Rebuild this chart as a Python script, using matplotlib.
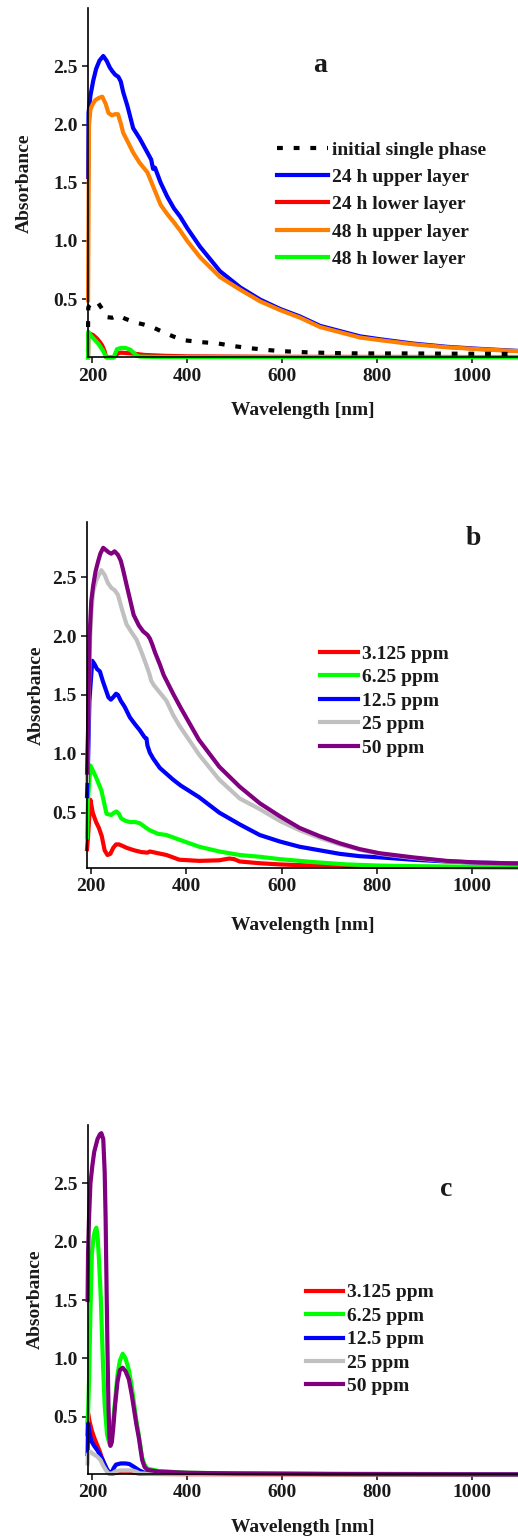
import matplotlib
matplotlib.use("Agg")
import matplotlib.pyplot as plt
from matplotlib.ticker import FormatStrFormatter

plt.rcParams['font.family'] = 'Liberation Serif'
plt.rcParams['font.weight'] = 'bold'
plt.rcParams['axes.labelweight'] = 'bold'
plt.rcParams['font.size'] = 14

# ---------------- panel a: phase separation ----------------
a_wl_init = [191, 191.5, 193, 200, 210, 220, 231, 242, 255, 270, 290, 310, 326, 350, 370, 392,
             430, 463, 500, 533, 570, 602, 650, 700, 737, 800, 876, 950, 1020, 1100]
a_abs_init = [0.26, 0.43, 0.44, 0.47, 0.48, 0.42, 0.345, 0.34, 0.36, 0.33, 0.30, 0.28, 0.26, 0.215, 0.18, 0.147,
              0.13, 0.12, 0.095, 0.078, 0.062, 0.052, 0.043, 0.037, 0.034, 0.033, 0.033, 0.031, 0.03, 0.028]

a_wl_24u = [191, 192, 196, 202, 208, 215, 223, 230, 237, 242, 248, 255, 260, 265, 274, 286, 300, 316, 324, 328,
            332, 344, 358, 372, 385, 400, 427, 469, 512, 554, 596, 638, 680, 722, 764, 806, 876, 947, 1017, 1100]
a_abs_24u = [1.55, 2.1, 2.25, 2.38, 2.48, 2.55, 2.59, 2.55, 2.49, 2.46, 2.43, 2.41, 2.37, 2.28, 2.16, 1.97, 1.88, 1.76, 1.70, 1.62,
             1.63, 1.50, 1.38, 1.28, 1.21, 1.11, 0.95, 0.74, 0.60, 0.495, 0.415, 0.35, 0.27, 0.225, 0.18, 0.155, 0.118, 0.09, 0.072, 0.054]

a_wl_48u = [191, 192, 193, 196, 200, 206, 214, 221, 228, 234, 241, 248, 254, 260, 265, 275, 286, 300, 316, 330,
            344, 358, 372, 385, 400, 427, 469, 512, 554, 596, 638, 680, 722, 764, 806, 876, 947, 1017, 1100]
a_abs_48u = [0.49, 1.2, 2.0, 2.13, 2.17, 2.21, 2.23, 2.24, 2.18, 2.10, 2.08, 2.09, 2.09, 2.01, 1.93, 1.85, 1.76, 1.67, 1.59, 1.45,
             1.31, 1.23, 1.16, 1.09, 1.0, 0.86, 0.69, 0.58, 0.48, 0.405, 0.34, 0.26, 0.215, 0.17, 0.147, 0.112, 0.086, 0.069, 0.052]

a_wl_24l = [191, 191.5, 196, 202, 210, 216, 221, 226, 229, 245, 250, 255, 260, 275, 290, 310, 350, 400, 600, 1100]
a_abs_24l = [0.0, 0.20, 0.2, 0.19, 0.16, 0.13, 0.10, 0.05, 0.0, 0.0, 0.02, 0.035, 0.04, 0.035, 0.03, 0.02, 0.013, 0.008, 0.004, 0.002]

a_wl_48l = [191, 191.5, 196, 205, 212, 217, 222, 227, 229, 245, 248, 252, 260, 270, 280, 287, 293, 300, 330, 400, 1100]
a_abs_48l = [0.0, 0.22, 0.19, 0.15, 0.12, 0.09, 0.06, 0.02, 0.0, 0.0, 0.03, 0.07, 0.08, 0.08, 0.065, 0.04, 0.015, 0.006, 0.003, 0.002, 0.001]

a_labels = ["initial single phase", "24 h upper layer", "24 h lower layer", "48 h upper layer", "48 h lower layer"]

# ---------------- panel b: concentration series ----------------
b_wl_3125 = [191, 193, 198, 203, 210, 216, 222, 228, 234, 240, 246, 252, 258, 264, 275, 290, 305, 318, 323, 340,
             358, 385, 427, 469, 490, 500, 512, 554, 596, 666, 806, 1100]
b_abs_3125 = [0.19, 0.29, 0.61, 0.50, 0.42, 0.37, 0.30, 0.18, 0.14, 0.15, 0.20, 0.23, 0.23, 0.22, 0.20, 0.18, 0.165, 0.16, 0.17, 0.155,
              0.14, 0.10, 0.09, 0.095, 0.11, 0.105, 0.085, 0.07, 0.06, 0.05, 0.04, 0.035]

b_wl_625 = [191, 193, 198, 203, 210, 216, 221, 226, 232, 242, 248, 253, 258, 263, 272, 281, 292, 302, 312, 323,
            340, 358, 385, 427, 469, 512, 554, 596, 666, 736, 806, 876, 950, 1100]
b_abs_625 = [0.29, 0.61, 0.90, 0.86, 0.80, 0.74, 0.69, 0.60, 0.49, 0.48, 0.50, 0.51, 0.49, 0.45, 0.43, 0.42, 0.42, 0.41, 0.38, 0.35,
             0.32, 0.31, 0.27, 0.21, 0.17, 0.14, 0.125, 0.105, 0.08, 0.06, 0.05, 0.045, 0.042, 0.04]

b_wl_125 = [191, 193, 196, 202, 207, 212, 218, 224, 230, 236, 241, 246, 252, 256, 262, 270, 281, 292, 302, 312,
            316, 318, 323, 330, 344, 358, 372, 388, 427, 469, 512, 554, 596, 638, 680, 722, 764, 806, 876, 947, 1017, 1100]
b_abs_125 = [0.64, 0.9, 1.45, 1.79, 1.76, 1.72, 1.70, 1.62, 1.55, 1.48, 1.46, 1.48, 1.51, 1.50, 1.45, 1.40, 1.31, 1.25, 1.20, 1.14,
             1.13, 1.07, 1.01, 0.96, 0.88, 0.83, 0.78, 0.73, 0.63, 0.50, 0.40, 0.31, 0.255, 0.21, 0.18, 0.15, 0.13, 0.12, 0.10, 0.085, 0.075, 0.068]

b_wl_25 = [191, 193, 196.5, 200, 204, 210, 216, 221, 228, 235, 242, 249, 256, 265, 274, 285, 295, 305, 316, 322,
           326, 332, 344, 358, 372, 385, 427, 469, 512, 554, 596, 638, 680, 722, 764, 806, 876, 947, 1017, 1100]
b_abs_25 = [0.77, 1.1, 1.87, 2.2, 2.38, 2.47, 2.52, 2.56, 2.52, 2.45, 2.41, 2.39, 2.35, 2.22, 2.10, 2.03, 1.97, 1.87, 1.75, 1.68,
            1.62, 1.58, 1.52, 1.45, 1.33, 1.24, 0.99, 0.78, 0.62, 0.53, 0.43, 0.35, 0.285, 0.23, 0.185, 0.15, 0.115, 0.088, 0.074, 0.067]

b_wl_50 = [191, 193, 196.5, 200, 204, 209, 214, 219, 225, 231, 237, 242, 249, 256, 262, 267, 275, 289, 300, 309,
           318, 323, 328, 334, 344, 352, 372, 388, 426, 469, 512, 554, 596, 638, 680, 722, 764, 806, 876, 947, 1017, 1100]
b_abs_50 = [0.84, 1.17, 2.01, 2.30, 2.43, 2.55, 2.63, 2.70, 2.75, 2.73, 2.71, 2.70, 2.72, 2.69, 2.64, 2.56, 2.42, 2.18, 2.09, 2.04,
            2.01, 1.98, 1.93, 1.86, 1.76, 1.67, 1.51, 1.39, 1.12, 0.89, 0.72, 0.58, 0.47, 0.37, 0.30, 0.24, 0.19, 0.155, 0.12, 0.09, 0.075, 0.068]

# ---------------- panel c: concentration series ----------------
c_wl_3125 = [190, 191, 194, 199, 204, 210, 215, 220, 225, 229, 232, 236, 240, 250, 260, 270, 280, 290, 300, 320, 400, 1100]
c_abs_3125 = [0.35, 0.53, 0.46, 0.38, 0.32, 0.26, 0.21, 0.15, 0.10, 0.06, 0.03, 0.012, 0.01, 0.02, 0.03, 0.03, 0.025, 0.02, 0.012, 0.01, 0.008, 0.005]

c_wl_625 = [190, 191, 193, 196, 199, 203, 206, 208.5, 211, 214, 218, 222, 226, 231, 236, 240, 246, 253, 258, 264,
            270, 277, 283, 288, 293, 298, 302, 305, 310, 316, 340, 400, 500, 700, 1100]
c_abs_625 = [0.45, 0.53, 0.8, 1.4, 1.9, 2.05, 2.1, 2.12, 2.05, 1.85, 1.5, 1.0, 0.6, 0.35, 0.27, 0.3, 0.55, 0.86, 0.98, 1.04,
             1.0, 0.9, 0.76, 0.61, 0.46, 0.34, 0.23, 0.15, 0.09, 0.055, 0.035, 0.02, 0.014, 0.009, 0.006]

c_wl_125 = [190, 191, 194, 198, 204, 211, 218, 225, 231, 236, 240, 245, 250, 260, 270, 278, 288, 299, 310, 330, 400, 1100]
c_abs_125 = [0.18, 0.44, 0.36, 0.29, 0.25, 0.21, 0.16, 0.10, 0.05, 0.02, 0.015, 0.06, 0.09, 0.10, 0.10, 0.095, 0.07, 0.04, 0.02, 0.014, 0.012, 0.008]

c_wl_25 = [190, 191, 196, 202, 210, 217, 223, 229, 234, 240, 248, 257, 270, 283, 292, 300, 320, 1100]
c_abs_25 = [0.10, 0.18, 0.20, 0.18, 0.16, 0.13, 0.08, 0.04, 0.015, 0.012, 0.03, 0.04, 0.04, 0.04, 0.03, 0.015, 0.012, 0.006]

c_wl_50 = [190, 191, 193, 196, 200, 204, 211, 216, 219, 223, 226, 228, 230, 232, 234, 236, 238, 241, 244, 248,
           253, 258, 264, 270, 277, 283, 288, 293, 298, 302, 305, 310, 316, 340, 400, 500, 700, 1100]
c_abs_50 = [1.5, 1.9, 2.2, 2.5, 2.65, 2.77, 2.88, 2.92, 2.93, 2.88, 2.6, 2.2, 1.6, 1.05, 0.6, 0.32, 0.25, 0.28, 0.4, 0.6,
            0.8, 0.9, 0.92, 0.89, 0.82, 0.69, 0.56, 0.43, 0.32, 0.21, 0.13, 0.07, 0.045, 0.03, 0.02, 0.014, 0.009, 0.006]

conc_labels = ["3.125 ppm", "6.25 ppm", "12.5 ppm", "25 ppm", "50 ppm"]

c_red, c_green, c_blue, c_gray, c_purple = "#ff0000", "#00ff00", "#0000ff", "#c0c0c0", "#800080"
c_orange = "#ff8000"
LW = 3
TEXT = "#1a1a1a"


def style_axes(ax, ylim, letter, letter_xy, ylabel_x, xlabel_y):
    ax.set_xlim(191, 1097)
    ax.set_ylim(*ylim)
    ax.set_xticks([200, 400, 600, 800, 1000])
    ax.set_yticks([0.5, 1.0, 1.5, 2.0, 2.5])
    ax.yaxis.set_major_formatter(FormatStrFormatter('%.1f'))
    ax.spines['top'].set_visible(False)
    ax.spines['right'].set_visible(False)
    for s in ['left', 'bottom']:
        ax.spines[s].set_linewidth(1.2)
        ax.spines[s].set_color('black')
    ax.tick_params(direction='out', length=4, width=1.2, labelsize=14, pad=3.5, colors=TEXT)
    ax.set_xlabel("Wavelength [nm]", fontsize=14, color=TEXT)
    ax.set_ylabel("Absorbance", fontsize=14, color=TEXT)
    ax.xaxis.set_label_coords(0.5, xlabel_y)
    ax.yaxis.set_label_coords(ylabel_x, 0.5)
    ax.text(letter_xy[0], letter_xy[1], letter, transform=ax.transAxes, fontsize=20,
            ha='center', va='center', color=TEXT)


fig = plt.figure(figsize=(5.18, 15.4), dpi=100)

# panel a
ax_a = fig.add_axes([0.170, 0.768, 0.830, 0.2266])
l_24u, = ax_a.plot(a_wl_24u, a_abs_24u, color=c_blue, lw=LW, clip_on=False)
l_48u, = ax_a.plot(a_wl_48u, a_abs_48u, color=c_orange, lw=LW, clip_on=False)
l_24l, = ax_a.plot(a_wl_24l, a_abs_24l, color=c_red, lw=LW, clip_on=False)
l_48l, = ax_a.plot(a_wl_48l, a_abs_48l, color=c_green, lw=LW, clip_on=False)
l_init, = ax_a.plot(a_wl_init, a_abs_init, color='black', lw=LW, linestyle=(0, (1.4, 2.6)),
                    dash_capstyle='butt', clip_on=False)
style_axes(ax_a, (0, 3.0), "a", (0.54, 0.836), -0.128, -0.128)
ax_a.legend([l_init, l_24u, l_24l, l_48u, l_48l], a_labels, loc='center left',
            bbox_to_anchor=(0.4395, 0.438), frameon=False, borderpad=0, borderaxespad=0,
            handlelength=2.6, handletextpad=0.25, labelspacing=0.5, fontsize=14, labelcolor=TEXT)

# panel b
ax_b = fig.add_axes([0.168, 0.4364, 0.832, 0.2247])
hb = []
for wl, ab, col in [(b_wl_3125, b_abs_3125, c_red), (b_wl_625, b_abs_625, c_green),
                    (b_wl_125, b_abs_125, c_blue), (b_wl_25, b_abs_25, c_gray),
                    (b_wl_50, b_abs_50, c_purple)]:
    ln, = ax_b.plot(wl, ab, color=col, lw=LW, clip_on=False)
    hb.append(ln)
style_axes(ax_b, (0.03, 2.97), "b", (0.896, 0.951), -0.099, -0.142)
ax_b.legend(hb, conc_labels, loc='center left', bbox_to_anchor=(0.5406, 0.4827), frameon=False,
            borderpad=0, borderaxespad=0, handlelength=1.96, handletextpad=0.2, labelspacing=0.3,
            fontsize=14, labelcolor=TEXT)

# panel c
ax_c = fig.add_axes([0.170, 0.0429, 0.830, 0.2266])
hc = []
for wl, ab, col in [(c_wl_3125, c_abs_3125, c_red), (c_wl_625, c_abs_625, c_green),
                    (c_wl_125, c_abs_125, c_blue), (c_wl_25, c_abs_25, c_gray),
                    (c_wl_50, c_abs_50, c_purple)]:
    ln, = ax_c.plot(wl, ab, color=col, lw=LW, clip_on=False)
    hc.append(ln)
style_axes(ax_c, (0.01, 3.0), "c", (0.833, 0.814), -0.102, -0.128)
ax_c.legend(hc, conc_labels, loc='center left', bbox_to_anchor=(0.507, 0.385), frameon=False,
            borderpad=0, borderaxespad=0, handlelength=1.9, handletextpad=0.2, labelspacing=0.3,
            fontsize=14, labelcolor=TEXT)

fig.savefig("out.png", dpi=100)
